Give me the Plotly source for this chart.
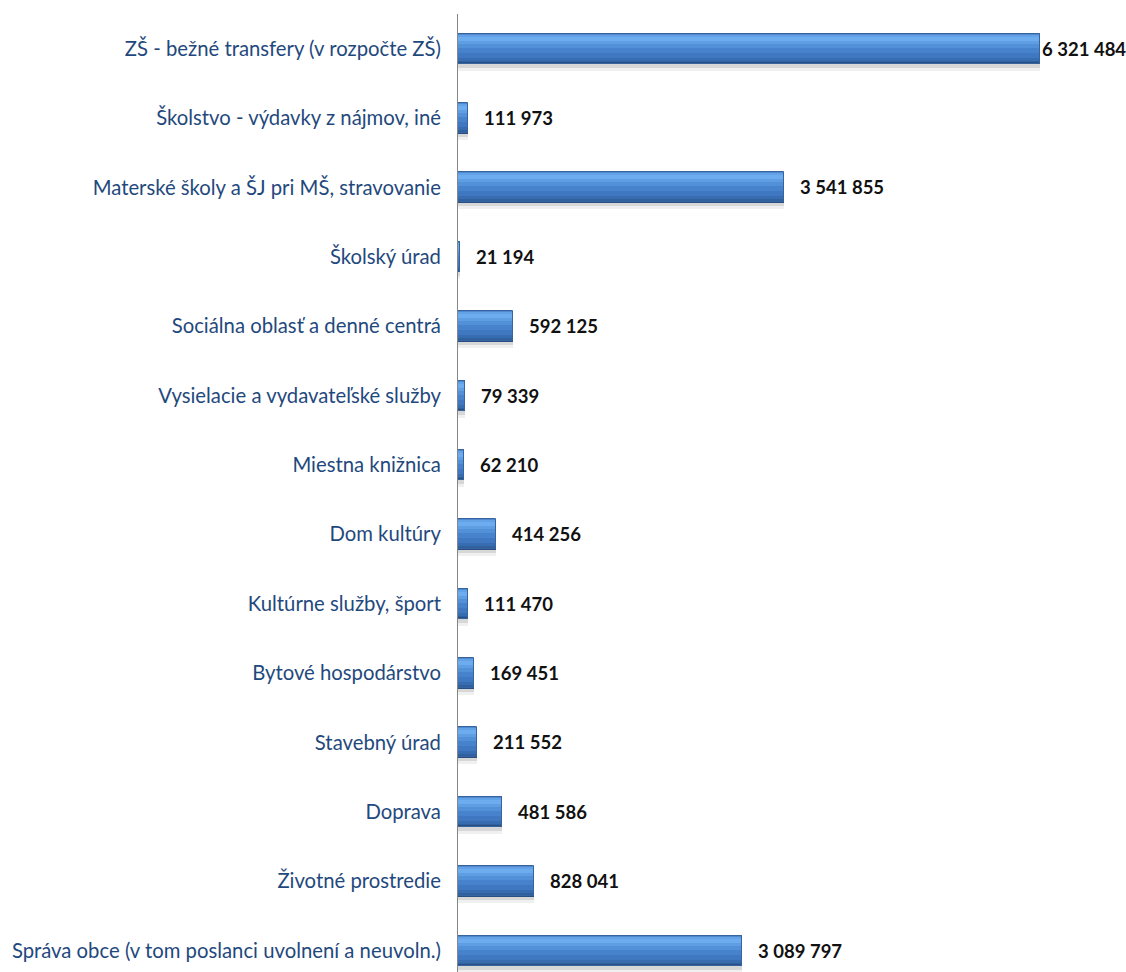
import plotly.graph_objects as go

categories = [
    "ZŠ - bežné transfery (v rozpočte ZŠ)",
    "Školstvo - výdavky z nájmov, iné",
    "Materské školy a ŠJ pri MŠ, stravovanie",
    "Školský úrad",
    "Sociálna oblasť a denné centrá",
    "Vysielacie a vydavateľské služby",
    "Miestna knižnica",
    "Dom kultúry",
    "Kultúrne služby, šport",
    "Bytové hospodárstvo",
    "Stavebný úrad",
    "Doprava",
    "Životné prostredie",
    "Správa obce (v tom poslanci uvolnení a neuvoln.)",
]
values = [6321484, 111973, 3541855, 21194, 592125, 79339, 62210,
          414256, 111470, 169451, 211552, 481586, 828041, 3089797]
value_labels = ["6 321 484", "111 973", "3 541 855", "21 194", "592 125", "79 339",
                "62 210", "414 256", "111 470", "169 451", "211 552", "481 586",
                "828 041", "3 089 797"]

W, H = 1126, 972
plot_left, plot_right, plot_top = 458, 1110, 14
px_per_unit = (1040 - 458) / values[0]
x_max = (plot_right - plot_left) / px_per_unit
ROW_PX = 69.38           # pixels per category
BAR_PX = 30.0            # bar thickness in pixels
u = 1.0 / ROW_PX         # one pixel in category units
top = -BAR_PX / 2 * u

fig = go.Figure()

# soft shadow
for dy, extra, col in [(4, 3, "rgba(0,0,0,0.06)"), (3, 1, "rgba(0,0,0,0.10)")]:
    fig.add_trace(go.Bar(
        y=categories, x=values, orientation="h",
        width=(BAR_PX + extra) * u, offset=top + dy * u,
        marker=dict(color=col, line=dict(width=0)),
        hoverinfo="skip", showlegend=False))

# gradient bands (pixel start, pixel end, colour)
bands = [
    (0, 1, "#4F88CF"),
    (1, 3, "#64A2E8"),
    (3, 7, "#6EACF0"),
    (7, 10, "#609EE4"),
    (10, 14, "#5290D8"),
    (14, 19, "#4783CC"),
    (19, 24, "#3F77C0"),
    (24, 27, "#386CB0"),
    (27, 29, "#30609E"),
    (29, 30, "#284E82"),
]
for i, (a, b, col) in enumerate(bands):
    fig.add_trace(go.Bar(
        y=categories, x=values, orientation="h",
        width=(b - a) * u, offset=top + a * u,
        marker=dict(color=col, line=dict(width=0)),
        hoverinfo="skip" if i else None, showlegend=False))

# outline
fig.add_trace(go.Bar(
    y=categories, x=values, orientation="h",
    width=BAR_PX * u, offset=top,
    marker=dict(color="rgba(0,0,0,0)", line=dict(color="#35649E", width=1)),
    hoverinfo="skip", showlegend=False))

for i, (c, v, t) in enumerate(zip(categories, values, value_labels)):
    fig.add_annotation(x=v, y=c, text=t, showarrow=False, xanchor="left",
                       xshift=0 if i == 0 else 14,
                       font=dict(family="Lato", size=18.5, color="#111111", weight="bold"))

y_bottom = (H - plot_top) / ROW_PX - 0.5
fig.update_layout(
    width=W, height=H,
    margin=dict(l=plot_left, r=W - plot_right, t=plot_top, b=0),
    paper_bgcolor="white", plot_bgcolor="white",
    barmode="overlay", bargap=0,
    xaxis=dict(range=[0, x_max], visible=False, showgrid=False, zeroline=False),
    yaxis=dict(type="category", categoryorder="array", categoryarray=categories,
               range=[y_bottom, -0.5], autorange=False,
               showline=True, linecolor="#868686", linewidth=1,
               ticks="", ticklabelstandoff=12,
               tickfont=dict(family="Lato", size=20.3, color="#1F497D"),
               showgrid=False, zeroline=False),
)
fig.write_html("out.html", config={"displayModeBar": False},
               post_script="document.body.style.margin='0';")
